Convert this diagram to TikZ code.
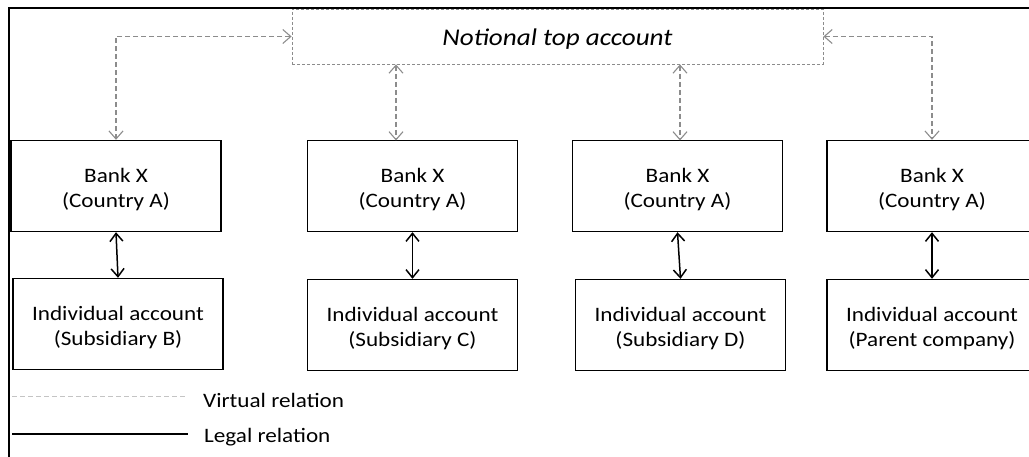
\documentclass[tikz,border=0pt]{standalone}
\usepackage{fontspec}
\setmainfont[FakeStretch=1.13]{Carlito}
\usetikzlibrary{arrows.meta}
\definecolor{virtgray}{HTML}{8C8C8C}
\definecolor{legendgray}{HTML}{C4C4C4}
\newcommand{\lowr}{\rule{0pt}{21.5pt}}
\tikzset{
  acct/.style={draw=black, line width=1.4pt, minimum width=210pt, minimum height=91pt, inner sep=0pt, align=center, font=\fontsize{20.5}{25}\selectfont},
  toptbox/.style={draw=virtgray, line width=0.8pt, dash pattern=on 3pt off 2pt, minimum width=531pt, minimum height=55pt, inner sep=0pt, font=\fontsize{24}{28}\selectfont\itshape},
  virt/.style={draw=virtgray, line width=1.1pt, dash pattern=on 5pt off 3pt, {Straight Barb[length=8pt,width=14pt,line width=1.1pt]}-{Straight Barb[length=8pt,width=14pt,line width=1.1pt]}},
  legal/.style={draw=black, line width=1.5pt, {Straight Barb[length=8pt,width=13pt,line width=1.5pt]}-{Straight Barb[length=8pt,width=13pt,line width=1.5pt]}},
  legtext/.style={anchor=west, inner sep=0pt, font=\fontsize{20.5}{25}\selectfont}
}
\begin{document}
\begin{tikzpicture}[x=1pt,y=-1pt]
\useasboundingbox (0,0) rectangle (1029,457);
\clip (0,0) rectangle (1029,457);
% outer frame
\draw[line width=2pt] (8.5,8) rectangle (1045,470);
% top notional account
\node[toptbox] (top) at (557.5,36.5) {\rule{0pt}{21pt}Notional top account};
% bank boxes
\node[acct] (b1) at (116,186) {\lowr Bank X\\(Country A)};
\node[acct] (b2) at (412.5,186) {\lowr Bank X\\(Country A)};
\node[acct] (b3) at (677.5,186) {\lowr Bank X\\(Country A)};
\node[acct] (b4) at (932,186) {\lowr Bank X\\(Country A)};
% individual accounts
\node[acct] (i1) at (118,324) {\lowr Individual account\\(Subsidiary B)};
\node[acct] (i2) at (412.5,325) {\lowr Individual account\\(Subsidiary C)};
\node[acct] (i3) at (680.5,325) {\lowr Individual account\\(Subsidiary D)};
\node[acct] (i4) at (932,325) {\lowr Individual account\\(Parent company)};
% virtual relations
\coordinate (v2) at (396,140.5);
\coordinate (v3) at (680,140.5);
\draw[virt] (top.west) -| (b1.north);
\draw[virt] (top.east) -| (b4.north);
\draw[virt] (top.south -| v2) -- (v2);
\draw[virt] (top.south -| v3) -- (v3);
% legal relations
\draw[legal] (b1.south) -- (i1.north);
\draw[legal] (b2.south) -- (i2.north);
\draw[legal] (b3.south) -- (i3.north);
\draw[legal] (b4.south) -- (i4.north);
% legend
\coordinate (lv1) at (12,396.5);
\coordinate (lv2) at (186,396.5);
\coordinate (ll1) at (12,433.5);
\coordinate (ll2) at (188,433.5);
\draw[draw=legendgray, line width=1pt, dash pattern=on 5pt off 3pt] (lv1) -- (lv2);
\draw[line width=2pt] (ll1) -- (ll2);
\node[legtext] (lvt) at (203,400) {Virtual relation};
\node[legtext] (llt) at (204,437) {Legal relation};
\end{tikzpicture}
\end{document}
